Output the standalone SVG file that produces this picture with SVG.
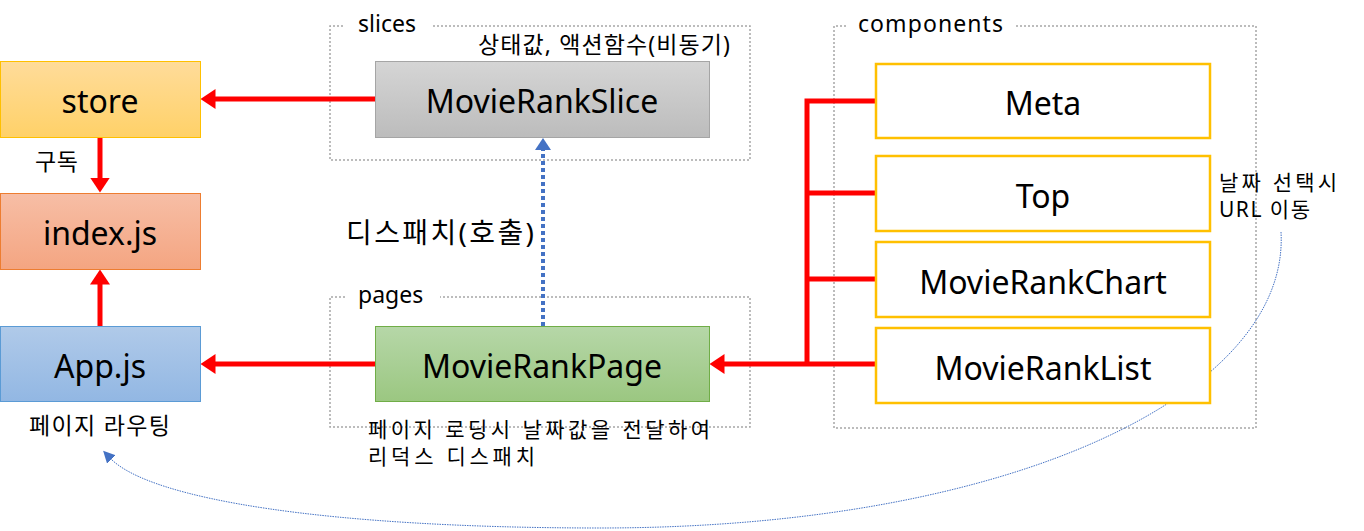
<svg xmlns="http://www.w3.org/2000/svg" width="1364" height="531" viewBox="0 0 1364 531">
<defs>
<linearGradient id="gY" x1="0" y1="0" x2="0" y2="1"><stop offset="0" stop-color="#FFDC9A"/><stop offset="1" stop-color="#FFD168"/></linearGradient>
<linearGradient id="gO" x1="0" y1="0" x2="0" y2="1"><stop offset="0" stop-color="#F7BEA6"/><stop offset="1" stop-color="#F4A581"/></linearGradient>
<linearGradient id="gB" x1="0" y1="0" x2="0" y2="1"><stop offset="0" stop-color="#B0CAE9"/><stop offset="1" stop-color="#92B7E3"/></linearGradient>
<linearGradient id="gG" x1="0" y1="0" x2="0" y2="1"><stop offset="0" stop-color="#D5D5D5"/><stop offset="1" stop-color="#BCBCBC"/></linearGradient>
<linearGradient id="gGr" x1="0" y1="0" x2="0" y2="1"><stop offset="0" stop-color="#B6D7A8"/><stop offset="1" stop-color="#9BC781"/></linearGradient>
<marker id="ar" markerWidth="4" markerHeight="4" refX="0.5" refY="2" orient="auto" markerUnits="strokeWidth"><path d="M0,0 L3,2 L0,4 Z" fill="#FF0000"/></marker>
<marker id="ab" markerWidth="4" markerHeight="4" refX="0.5" refY="2" orient="auto" markerUnits="strokeWidth"><path d="M0,0 L3,2 L0,4 Z" fill="#4472C4"/></marker>
<marker id="ac" markerWidth="16" markerHeight="16" refX="2" refY="6" orient="auto" markerUnits="userSpaceOnUse"><path d="M0,0 L12,6 L0,12 Z" fill="#4472C4"/></marker>
</defs>
<style>
text{font-family:"Noto Sans","Noto Sans CJK KR",sans-serif;fill:#000}
.n{font-size:32px;text-anchor:middle;dominant-baseline:central}
.s{font-size:23px}
.k{font-size:23px}
.k2{font-size:21px}
.grp{fill:none;stroke:#A6A6A6;stroke-width:1.5;stroke-dasharray:2 2}
.red{fill:none;stroke:#FF0000;stroke-width:5}
.comp{fill:#FFFFFF;stroke:#FFC000;stroke-width:2.5}
</style>

<g id="groups">
<path class="grp" d="M343,26 L330,26 L330,160 L750,160 L750,26 L433,26"/>
<path class="grp" d="M345,297 L330,297 L330,427 L750,427 L750,297 L440,297"/>
<path class="grp" d="M846,26 L834,26 L834,428 L1256,428 L1256,26 L1016,26"/>
<text class="s" x="358" y="32">slices</text>
<text class="s" x="358" y="303">pages</text>
<text class="s" x="858" y="32" textLength="145" lengthAdjust="spacing">components</text>
</g>

<g id="connectors">
<line class="red" x1="375" y1="99" x2="213" y2="99" marker-end="url(#ar)"/>
<line class="red" x1="100" y1="137" x2="100" y2="180" marker-end="url(#ar)"/>
<line class="red" x1="100" y1="326" x2="100" y2="282" marker-end="url(#ar)"/>
<line class="red" x1="375" y1="364" x2="213" y2="364" marker-end="url(#ar)"/>
<line x1="543" y1="326" x2="543" y2="148" stroke="#4472C4" stroke-width="4" stroke-dasharray="4 3" marker-end="url(#ab)"/>
<path class="red" d="M876,101 L807,101 L807,364"/>
<line class="red" x1="807" y1="193" x2="876" y2="193"/>
<line class="red" x1="807" y1="279" x2="876" y2="279"/>
<line class="red" x1="876" y1="364" x2="722" y2="364" marker-end="url(#ar)"/>
<path d="M1281,232 C1290,390 1020,528 600,528 C330,528 150,500 110,458" fill="none" stroke="#4472C4" stroke-width="1" stroke-dasharray="1.5 1" marker-end="url(#ac)"/>
</g>

<g id="store"><rect x="0.5" y="61.5" width="200" height="76" fill="url(#gY)" stroke="#FFC000" stroke-width="1"/><text class="n" x="100" y="100">store</text></g>
<g id="index"><rect x="0.5" y="193.5" width="200" height="76" fill="url(#gO)" stroke="#ED7D31" stroke-width="1"/><text class="n" x="100" y="232">index.js</text></g>
<g id="app"><rect x="0.5" y="326.5" width="200" height="75" fill="url(#gB)" stroke="#5B9BD5" stroke-width="1"/><text class="n" x="100" y="365">App.js</text></g>
<g id="slice"><rect x="375.5" y="61.5" width="334" height="76" fill="url(#gG)" stroke="#A5A5A5" stroke-width="1"/><text class="n" x="542" y="100">MovieRankSlice</text></g>
<g id="page"><rect x="375.5" y="326.5" width="334" height="75" fill="url(#gGr)" stroke="#70AD47" stroke-width="1"/><text class="n" x="542" y="365">MovieRankPage</text></g>
<g id="meta"><rect class="comp" x="876" y="64" width="334" height="74"/><text class="n" x="1043" y="102">Meta</text></g>
<g id="top"><rect class="comp" x="876" y="156" width="334" height="75"/><text class="n" x="1043" y="195">Top</text></g>
<g id="chart"><rect class="comp" x="876" y="242" width="334" height="75"/><text class="n" x="1043" y="281">MovieRankChart</text></g>
<g id="list"><rect class="comp" x="876" y="328" width="334" height="75"/><text class="n" x="1043" y="367">MovieRankList</text></g>

<g id="labels">
<text class="k" x="35" y="170" textLength="43" lengthAdjust="spacing">구독</text>
<text class="k" x="478" y="53" textLength="252" lengthAdjust="spacing">상태값, 액션함수(비동기)</text>
<text x="346" y="243" style="font-size:28px" textLength="188" lengthAdjust="spacing">디스패치(호출)</text>
<text class="k" x="29" y="434" textLength="141" lengthAdjust="spacing">페이지 라우팅</text>
<text class="k2" x="368" y="437" textLength="342" lengthAdjust="spacing">페이지 로딩시 날짜값을 전달하여</text>
<text class="k2" x="368" y="464" textLength="167" lengthAdjust="spacing">리덕스 디스패치</text>
<text class="k2" x="1219" y="190" textLength="118" lengthAdjust="spacing">날짜 선택시</text>
<text class="k2" x="1219" y="217" textLength="91" lengthAdjust="spacing">URL 이동</text>
</g>
</svg>
